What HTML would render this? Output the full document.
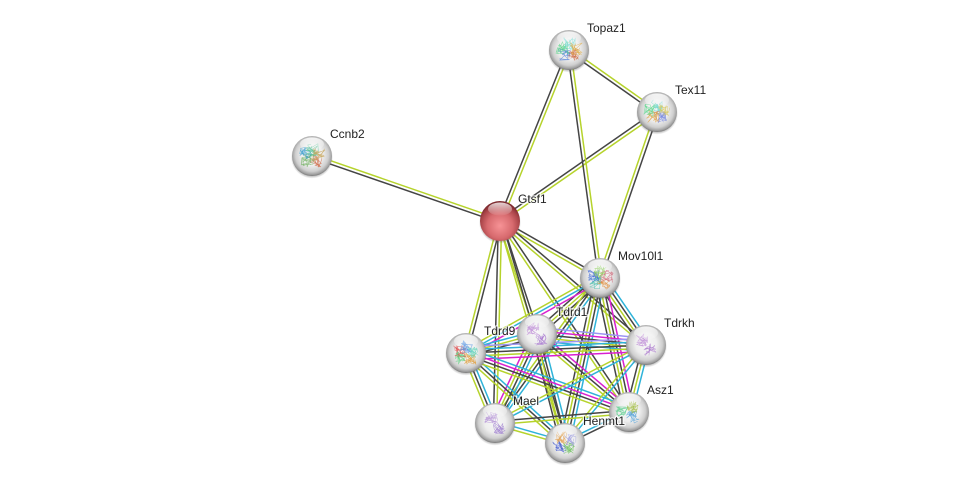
<!DOCTYPE html>
<html><head><meta charset="utf-8"><style>
html,body{margin:0;padding:0;background:#fff;width:976px;height:488px;overflow:hidden}
svg{display:block}
text{font-family:"Liberation Sans",sans-serif;font-size:12px;fill:#222;paint-order:stroke;stroke:#fff;stroke-width:2.5px;stroke-opacity:.75;stroke-linejoin:round}
</style></head><body>
<svg id="s" xmlns="http://www.w3.org/2000/svg" width="976" height="488" viewBox="0 0 976 488">
<defs>
<radialGradient id="g" cx="50%" cy="47%" r="53%">
<stop offset="0" stop-color="#f8f8f8"/><stop offset=".5" stop-color="#eeeeee"/><stop offset=".78" stop-color="#cfcfcf"/><stop offset=".93" stop-color="#a0a0a0"/><stop offset="1" stop-color="#787878"/>
</radialGradient>
<radialGradient id="r" cx="50%" cy="62%" r="58%">
<stop offset="0" stop-color="#f79396"/><stop offset=".55" stop-color="#d76a6e"/><stop offset=".85" stop-color="#a94448"/><stop offset="1" stop-color="#7d2a2e"/>
</radialGradient>
<linearGradient id="h" x1="0" y1="0" x2="0" y2="1">
<stop offset="0" stop-color="#fff" stop-opacity=".8"/><stop offset="1" stop-color="#fff" stop-opacity=".05"/>
</linearGradient>
<radialGradient id="sh" cx="50%" cy="50%" r="50%">
<stop offset=".8" stop-color="#444" stop-opacity=".6"/><stop offset="1" stop-color="#555" stop-opacity="0"/>
</radialGradient>
</defs>
<g id="edges"></g>
<g id="nodes"></g>
<g>
<text x="587" y="32">Topaz1</text>
<text x="675" y="94">Tex11</text>
<text x="330" y="138">Ccnb2</text>
<text x="518" y="203">Gtsf1</text>
<text x="618" y="260">Mov10l1</text>
<text x="664" y="327">Tdrkh</text>
<text x="556" y="316">Tdrd1</text>
<text x="484" y="335">Tdrd9</text>
<text x="513" y="405">Mael</text>
<text x="583" y="425">Henmt1</text>
<text x="647" y="394">Asz1</text>
</g>
</svg>
<script>
var N={T:[569,50],X:[657,112],C:[312,156],G:[500,221],M:[600,278],K:[646,345],D:[537,334],R:[466,353],A:[495,423],H:[565,443],Z:[629,412]};
var c={k:"#454545",y:"#b6d32c",b:"#2fb3d9",m:"#d920d0",p:"#9c94f2"};
var E=[
["C","G","yk"],["T","G","yk"],["X","G","yk"],["T","X","yk"],["T","M","yk"],["X","M","ky"],
["G","M","ky"],["G","D","ky"],["G","R","ky"],["G","A","yk"],["G","H","ky"],["G","K","ky"],["G","Z","ky"],
["M","D","kyk"],["M","R","mby"],["M","K","bkyk"],["M","A","bky"],["M","H","bkyk"],["M","Z","mkyk"],
["D","R","kyb"],["D","K","pmkyb"],["D","A","bkym"],["D","H","bkyk"],["D","Z","mky"],
["R","K","pbkym"],["R","A","bky"],["R","H","bky"],["R","Z","bmky"],
["K","A","by"],["K","H","by"],["K","Z","byk"],
["A","H","by"],["A","Z","ky"],["H","Z","bk"]];
var ns="http://www.w3.org/2000/svg",eg=document.getElementById("edges"),ng=document.getElementById("nodes");
function el(t,a,p){var e=document.createElementNS(ns,t);for(var k in a)e.setAttribute(k,a[k]);p.appendChild(e);return e}
E.forEach(function(e){
 var a=N[e[0]],b=N[e[1]],dx=b[0]-a[0],dy=b[1]-a[1],L=Math.hypot(dx,dy),nx=-dy/L,ny=dx/L,n=e[2].length;
 for(var i=0;i<n;i++){var o=(i-(n-1)/2)*3.3;
  el("line",{x1:a[0]+nx*o,y1:a[1]+ny*o,x2:b[0]+nx*o,y2:b[1]+ny*o,stroke:c[e[2][i]],"stroke-width":1.5},eg);}
});
var seed=7;function rnd(){seed=(seed*16807)%2147483647;return seed/2147483647}
var P={T:["#d0704a","#4a78d8","#5fd68a","#6ed8d0","#e0b050"],X:["#7a8ae0","#e0a040","#60d890","#70d8d0","#d8c860"],C:["#d07050","#70b060","#40a0d0","#50c090","#c8a860"],M:["#e09040","#50c0b0","#4a70d8","#90d060","#d07080"],K:["#b080d0","#c090d8"],D:["#a878d0","#c090d8"],R:["#e0a040","#60d080","#e05050","#5090e0","#70d8c0"],A:["#a080d0","#b898d8"],H:["#70c060","#4a60d0","#e0a050","#a0a0e0"],Z:["#50a0d8","#60d090","#a8c050"]};
Object.keys(N).forEach(function(k){
 var p=N[k],x=p[0],y=p[1];
 el("circle",{cx:x,cy:y+1.5,r:21,fill:"url(#sh)"},ng);
 el("circle",{cx:x,cy:y,r:20,fill:k=="G"?"url(#r)":"url(#g)"},ng);
 if(P[k]){P[k].forEach(function(col,j){
  var m=P[k].length,an=j/m*6.28+1,cx=x+Math.cos(an)*7,cy=y+Math.sin(an)*6;
  for(var q=0;q<4;q++){var d="M"+(cx+(rnd()-.5)*8).toFixed(1)+" "+(cy+(rnd()-.5)*8).toFixed(1);
   for(var s=0;s<6;s++)d+="L"+(cx+(rnd()-.5)*13).toFixed(1)+" "+(cy+(rnd()-.5)*13).toFixed(1);
   el("path",{d:d,fill:"none",stroke:col,"stroke-width":.55,"stroke-opacity":.75},ng);}
 });}
 el("ellipse",{cx:x,cy:y-12,rx:12,ry:6.5,fill:"url(#h)"},ng);
});
</script>
</body></html>
